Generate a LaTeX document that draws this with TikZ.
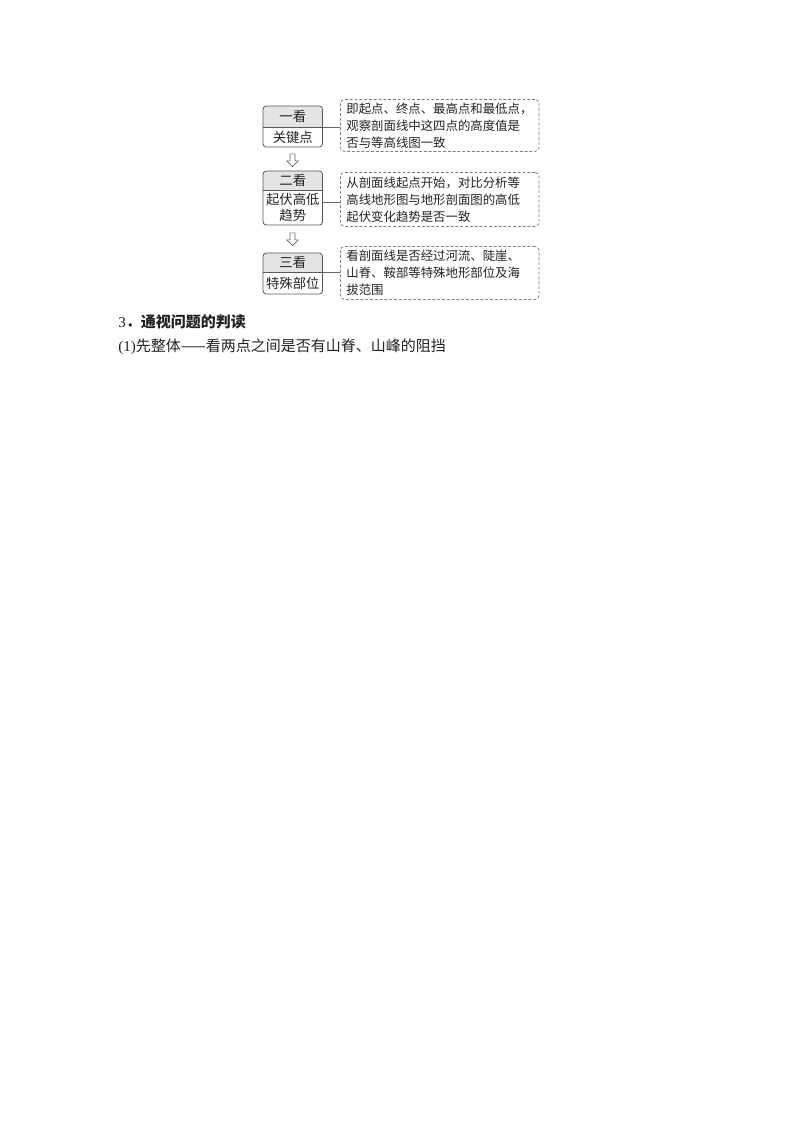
\documentclass[tikz,border=0pt]{standalone}
\usepackage{fontspec}
\setmainfont{Liberation Serif}
\newfontfamily\cjk{Noto Sans CJK SC}
\usetikzlibrary{shapes.arrows,backgrounds}
\definecolor{ink}{HTML}{222222}
\definecolor{hdrgray}{HTML}{E4E4E4}
\tikzset{
  hdr/.style={minimum width=44.25pt, inner sep=0pt, anchor=north west,
    font=\cjk\fontsize{10}{12}\selectfont, text=ink},
  bodyn/.style={minimum width=44.25pt, inner sep=0pt, anchor=north, align=center,
    font=\cjk\fontsize{10}{12}\selectfont, text=ink},
  frame/.style={draw=black!65, line width=0.6pt, rounded corners=2.5pt},
  divider/.style={draw=black!65, line width=0.6pt},
  hdrfill/.style={fill=hdrgray},
  note/.style={draw=black!50, dash pattern=on 2.2pt off 1.4pt, rounded corners=3pt,
    line width=0.6pt, text width=140pt, inner xsep=4.5pt, inner ysep=0pt,
    align=left, anchor=north west, text=ink,
    font=\cjk\fontsize{9.3}{12.75}\selectfont},
  link/.style={draw=black!60, line width=0.6pt},
  hollow/.style={single arrow, draw=black!60, line width=0.5pt, fill=white,
    minimum height=9.5pt, inner sep=1.6pt, single arrow head extend=2.4pt,
    shape border rotate=270},
  para/.style={anchor=west, inner sep=0pt, text=ink}
}
\begin{document}
\begin{tikzpicture}[x=0.75pt,y=-0.75pt]
\useasboundingbox (0,0) rectangle (800,1132);

% left boxes
\node[hdr, minimum height=15.75pt] (h1) at (263,106) {一看};
\node[bodyn, minimum height=14.25pt] (b1) at (h1.south) {关键点};
\node[hdr, minimum height=14.25pt] (h2) at (263,171) {二看};
\node[bodyn, minimum height=25.5pt] (b2) at (h2.south) {起伏高低\\趋势};
\node[hdr, minimum height=14.25pt] (h3) at (263,253) {三看};
\node[bodyn, minimum height=15.75pt] (b3) at (h3.south) {特殊部位};

\begin{pgfonlayer}{background}
  \foreach \h in {h1,h2,h3}{
    \fill[hdrfill, rounded corners=2.5pt] (\h.north west) rectangle (\h.south east);
    \fill[hdrfill] (\h.west) rectangle (\h.south east);
  }
\end{pgfonlayer}
\draw[frame] (h1.north west) rectangle (b1.south east);
\draw[divider] (h1.south west) -- (h1.south east);
\draw[frame] (h2.north west) rectangle (b2.south east);
\draw[divider] (h2.south west) -- (h2.south east);
\draw[frame] (h3.north west) rectangle (b3.south east);
\draw[divider] (h3.south west) -- (h3.south east);

% hollow arrows
\node[hollow] (a1) at (292.5,159) {};
\node[hollow] (a2) at (292.5,238) {};

% dashed notes
\node[note, minimum height=39pt] (d1) at (340,99)
  {即起点、终点、最高点和最低点，\\观察剖面线中这四点的高度值是\\否与等高线图一致};
\node[note, minimum height=40.5pt] (d2) at (340,172)
  {从剖面线起点开始，对比分析等\\高线地形图与地形剖面图的高低\\起伏变化趋势是否一致};
\node[note, minimum height=39.75pt] (d3) at (340,246)
  {看剖面线是否经过河流、陡崖、\\山脊、鞍部等特殊地形部位及海\\拔范围};

% connectors
\draw[link] (h1.south east) -- (h1.south east -| d1.west);
\draw[link] ([yshift=3.75pt]b2.east) -- ([yshift=3.75pt]b2.east -| d2.west);
\draw[link] (h3.south east) -- (h3.south east -| d3.west);

% text below
\node[para, font=\fontsize{11.25}{13}\selectfont] (t1) at (118,322)
  {3{\cjk\bfseries ．通视问题的判读}};
\node[para, font=\fontsize{11.25}{13}\selectfont] (t2) at (118,347)
  {(1){\cjk 先整体——看两点之间是否有山脊、山峰的阻挡}};
\end{tikzpicture}
\end{document}
